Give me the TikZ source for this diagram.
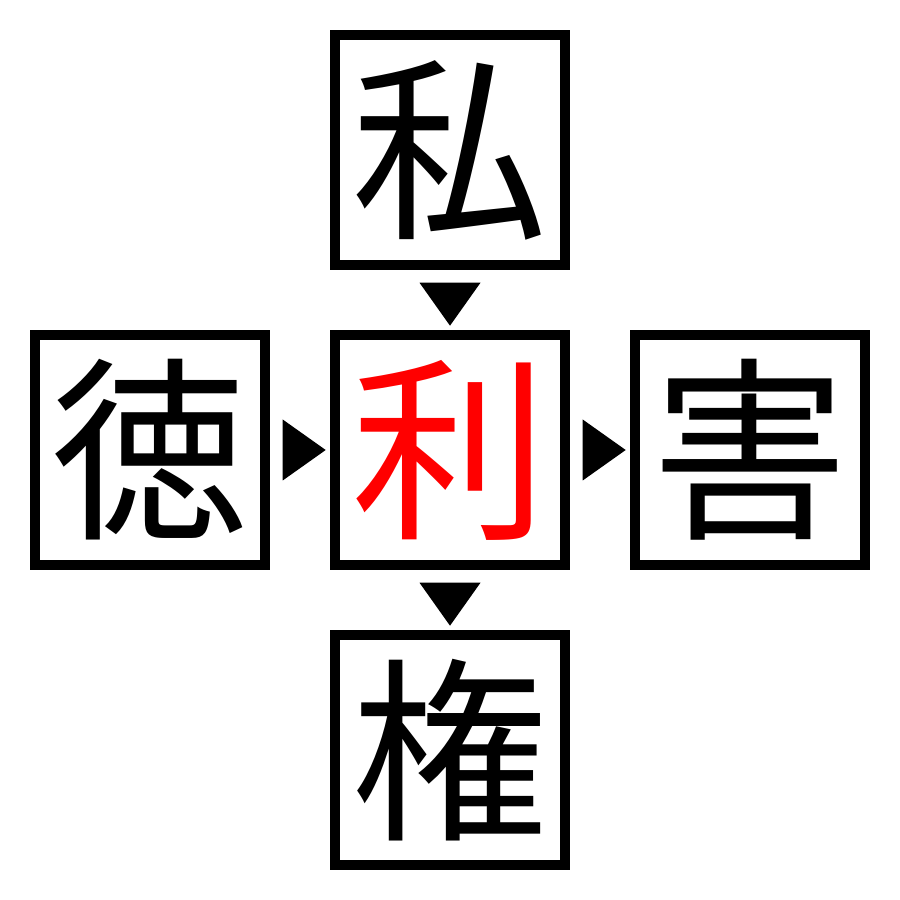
\documentclass[tikz,border=0pt]{standalone}
\usepackage{fontspec}
\newfontfamily\cjk{Noto Sans CJK JP}
\usetikzlibrary{shapes.geometric, positioning}
\tikzstyle{kanji} = [rectangle, minimum size=2.3cm, inner sep=0pt, line width=0.1cm, draw=black, font=\cjk\fontsize{56}{56}\selectfont]
\tikzstyle{tri} = [isosceles triangle, isosceles triangle stretches, fill=black, inner sep=0pt, minimum width=0.61cm, minimum height=0.43cm]

\begin{document}
\begin{tikzpicture}[node distance=0.6cm]
        \useasboundingbox (0,0) rectangle (9,9);
        \node (priv) [kanji] at (4.5,7.5) {私};
        \node (gain) [kanji, text=red, below=of priv] {利};
        \node (virt) [kanji, left=of gain] {徳};
        \node (harm) [kanji, right=of gain] {害};
        \node (power) [kanji, below=of gain] {権};
        \node (t1) [tri, shape border rotate=270, below=0.12cm of priv] {};
        \node (t2) [tri, right=0.12cm of virt] {};
        \node (t3) [tri, right=0.12cm of gain] {};
        \node (t4) [tri, shape border rotate=270, below=0.12cm of gain] {};
    \end{tikzpicture}
\end{document}
